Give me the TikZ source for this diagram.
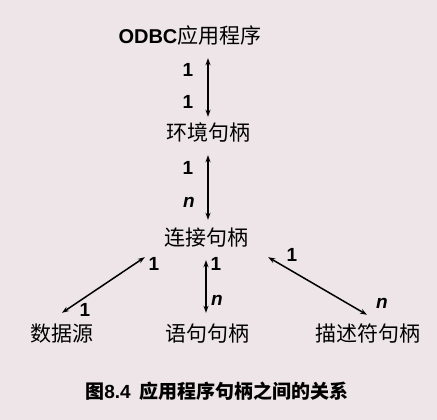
\documentclass[tikz,border=0pt]{standalone}
\usepackage{fontspec}
\setmainfont{Liberation Sans}
\newfontfamily\cjk{Noto Sans CJK SC}
\usepackage{tikz}
\usetikzlibrary{arrows.meta}

\definecolor{bgpink}{RGB}{237,229,232}

\begin{document}
\begin{tikzpicture}[x=1pt, y=-1pt,
        handle/.style={inner sep=0pt, text height=16pt, text depth=2pt, font=\cjk\fontsize{21}{21}\selectfont},
        num/.style={inner sep=0pt, font=\bfseries\fontsize{19}{19}\selectfont},
        rel/.style={line width=1.5pt, {Stealth[length=7pt,width=5pt]}-{Stealth[length=7pt,width=5pt]}}]
        \useasboundingbox[fill=bgpink] (0,0) rectangle (437,420);

        % Nodes
        \node[handle] (app) at (190,37) {{\rmfamily\bfseries\fontsize{20}{20}\selectfont ODBC}应用程序};
        \node[handle] (env) at (208,134) {环境句柄};
        \node[handle] (conn) at (206,238) {连接句柄};
        \node[handle] (src) at (62,334) {数据源};
        \node[handle] (stmt) at (207,334) {语句句柄};
        \node[handle] (desc) at (368,334) {描述符句柄};

        % Labels
        \node[num] (a1) at (188,70) {1};
        \node[num] (a2) at (188,102) {1};
        \node[num] (b1) at (188,168) {1};
        \node[num] (b2) at (189,202) {\itshape n};
        \node[num] (c1) at (154,264) {1};
        \node[num] (c2) at (85,310) {1};
        \node[num] (d1) at (216,264) {1};
        \node[num] (d2) at (217,300) {\itshape n};
        \node[num] (e1) at (292,255) {1};
        \node[num] (e2) at (382,303) {\itshape n};

        % Lines
        \draw[rel, shorten <=12pt, shorten >=8pt] (app.south -| env.south) -- (env.north);
        \draw[rel, shorten <=12pt, shorten >=9pt] (env.south) -- (env.north |- conn.north);
        \draw[rel, shorten <=13pt, shorten >=12pt] (conn.south) -- (conn.south |- stmt.north);
        \draw[rel] ([shift={(-19,10)}]conn.south west) -- ([yshift=12pt]src.north);
        \draw[rel] ([shift={(20,10)}]conn.south east) -- ([shift={(-1,-10)}]desc.north);

        % Caption
        \node[inner sep=0pt, font=\bfseries\fontsize{19}{19}\selectfont] (cap) at (217,391)
            {{\cjk 图}8.4\hspace{9pt}{\cjk 应用程序句柄之间的关系}};
\end{tikzpicture}
\end{document}
